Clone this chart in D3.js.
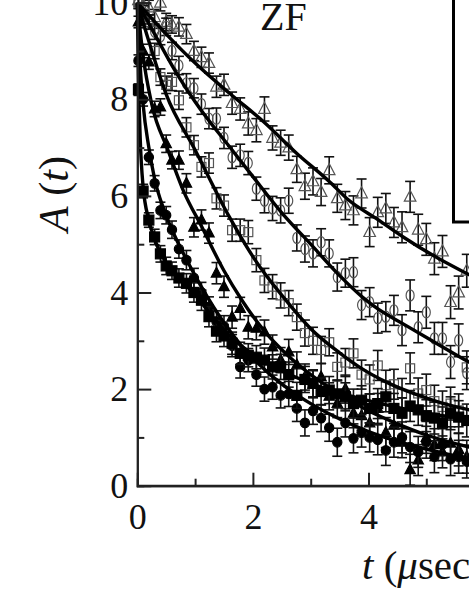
<!DOCTYPE html>
<html><head><meta charset="utf-8">
<script src="https://cdn.jsdelivr.net/npm/d3@7/dist/d3.min.js"></script>
<style>html,body{margin:0;padding:0;background:#fff;overflow:hidden}svg{display:block}</style>
</head><body>
<script>
// ---- data ----
const tBins = [0.02,0.1,0.2,0.3,0.4,0.5,0.6,0.72,0.85,0.98,1.11,1.24,1.37,1.5,1.64,1.78,1.92,2.06,2.2,2.34,2.48,2.62,2.76,2.9,3.04,3.18,3.32,3.46,3.6,3.74,3.88,4.02,4.16,4.3,4.44,4.58,4.72,4.86,5.0,5.14,5.28,5.42,5.56,5.7,5.84];
const errBins = [0.12,0.14,0.15,0.16,0.17,0.18,0.18,0.19,0.2,0.2,0.21,0.21,0.22,0.22,0.23,0.23,0.24,0.24,0.25,0.25,0.26,0.26,0.27,0.27,0.28,0.28,0.28,0.29,0.29,0.3,0.3,0.3,0.31,0.31,0.31,0.32,0.32,0.32,0.33,0.33,0.33,0.34,0.34,0.34,0.35];

const openTri  = [10.05,9.95,9.9,9.7,10.0,9.6,9.55,9.5,9.35,9.0,8.87,8.75,8.26,8.3,7.92,7.8,7.5,7.36,7.8,7.2,7.1,7.0,6.55,6.2,6.3,6.08,6.53,5.95,5.8,5.7,6.05,5.25,5.66,5.74,5.45,5.35,5.98,5.3,5.1,4.7,4.85,3.8,4.0,4.45,4.2];
const openCirc = [10.0,9.8,9.6,9.4,9.3,9.5,9.0,8.7,8.33,8.23,7.9,7.6,7.6,7.2,6.8,6.84,6.68,6.15,5.9,5.74,5.7,5.9,5.13,4.9,4.81,5.04,4.81,4.32,4.4,4.42,3.74,3.8,3.47,3.5,3.63,3.22,3.94,3.28,3.59,3.05,3.05,2.56,3.01,2.33,2.5];
const openSq   = [10.0,9.7,9.6,9.0,8.46,8.3,8.36,7.98,7.42,7.05,6.6,6.68,5.95,5.8,5.29,5.29,5.25,4.67,4.25,4.12,3.94,3.78,3.49,3.16,3.0,2.81,2.97,2.46,2.55,2.74,2.3,2.2,2.49,2.08,2.1,1.9,2.43,1.91,1.98,1.75,1.63,1.7,1.56,2.45,1.5];
const fillTri  = [9.6,9.0,8.77,7.8,7.84,7.08,6.74,6.74,6.26,5.35,5.5,5.23,4.4,4.12,3.49,3.67,3.28,3.26,3.18,2.87,2.6,2.77,2.5,2.25,2.1,2.25,1.85,1.7,2.0,1.5,1.45,1.3,1.6,1.1,1.25,0.9,0.33,0.53,1.0,0.85,0.7,0.88,0.75,0.6,0.8];
const fillCirc = [8.8,8.0,6.8,6.26,5.7,5.6,5.3,4.9,4.67,4.3,4.0,3.7,3.4,3.3,2.9,2.46,2.6,2.3,2.0,2.04,1.87,1.9,1.6,1.3,1.55,1.4,1.2,0.9,1.3,0.98,1.1,1.0,0.95,0.73,0.9,1.0,0.8,0.7,0.9,0.6,0.85,0.55,0.6,0.5,0.55];
const fillSq   = [8.2,6.1,5.5,5.15,4.8,4.55,4.45,4.3,4.19,4.0,3.84,3.5,3.2,3.1,2.95,2.74,2.7,2.66,2.6,2.46,2.46,2.3,1.87,2.2,2.12,1.95,1.98,1.9,1.84,1.7,1.77,1.6,1.7,1.84,1.6,1.5,1.65,1.57,1.45,1.4,1.3,1.5,1.42,1.35,1.4];

const fitT_openTri  = [0,0.5,1.0,1.6,2.18,2.76,3.33,3.65,4.15,4.6,5.1,5.64,6.2];
const fitA_openTri  = [10,9.35,8.75,8.12,7.54,6.88,6.29,5.92,5.52,5.15,4.78,4.43,4.1];
const fitT_openCirc = [0,0.3,0.65,1.0,1.64,2.0,2.5,3.0,3.5,3.9,4.15,4.6,5.1,5.74,6.2];
const fitA_openCirc = [10,9.35,8.6,7.95,6.95,6.4,5.65,5.0,4.35,3.9,3.67,3.35,3.0,2.56,2.3];
const fitT_openSq   = [0,0.2,0.5,1.0,1.6,2.04,2.53,3.0,3.5,3.85,4.3,4.8,5.3,5.74,6.2];
const fitA_openSq   = [10,9.2,8.1,6.95,5.55,4.67,3.9,3.25,2.75,2.45,2.15,1.9,1.7,1.57,1.45];
const fitT_fillTri  = [0,0.1,0.25,0.53,0.8,1.12,1.5,1.81,2.2,2.6,3.0,3.5,4.0,4.5,5.0,5.74,6.2];
const fitA_fillTri  = [10,8.9,7.9,6.95,6.1,5.35,4.45,3.84,3.2,2.7,2.3,1.9,1.55,1.28,1.05,0.8,0.7];
const fitT_fillCirc = [0,0.05,0.1,0.2,0.3,0.45,0.6,0.8,1.0,1.4,1.8,2.3,2.8,3.3,4.0,4.5,5.0,5.74,6.2];
const fitA_fillCirc = [10,8.7,7.9,7.0,6.35,5.75,5.3,4.8,4.35,3.55,2.9,2.3,1.85,1.5,1.12,0.92,0.76,0.56,0.48];
const fitT_fillSq   = [0,0.02,0.05,0.1,0.2,0.3,0.5,0.8,1.0,1.3,1.6,2.0,2.5,3.0,3.5,4.0,4.5,5.0,5.74,6.2];
const fitA_fillSq   = [10,8.5,7.2,6.2,5.5,5.1,4.62,4.2,3.95,3.5,3.1,2.72,2.38,2.12,1.92,1.76,1.62,1.5,1.38,1.32];

const xMajor = [0,2,4];
const xMinor = [1,3,5];
const yMajor = [0,2,4,6,8,10];
const yMinor = [1,3,5,7,9];

// ---- drawing ----
const W = 469, H = 607;
const svg = d3.select("body").append("svg").attr("width", W).attr("height", H);
const x = d3.scaleLinear().domain([0, 8]).range([137.3, 137.3 + 8 * 57.8]);
const y = d3.scaleLinear().domain([0, 10]).range([485.7, 2.7]);
const font = "'Liberation Serif','Times New Roman',serif";

const series = [
  {v: openTri,  fitT: fitT_openTri,  fitA: fitA_openTri,  shape: "tri",  fill: false},
  {v: openCirc, fitT: fitT_openCirc, fitA: fitA_openCirc, shape: "circ", fill: false},
  {v: openSq,   fitT: fitT_openSq,   fitA: fitA_openSq,   shape: "sq",   fill: false},
  {v: fillTri,  fitT: fitT_fillTri,  fitA: fitA_fillTri,  shape: "tri",  fill: true},
  {v: fillCirc, fitT: fitT_fillCirc, fitA: fitA_fillCirc, shape: "circ", fill: true},
  {v: fillSq,   fitT: fitT_fillSq,   fitA: fitA_fillSq,   shape: "sq",   fill: true}
];

const plot = svg.append("g");

// error bars + markers
series.forEach(s => {
  const g = plot.append("g");
  const pts = tBins.map((t, i) => ({t, a: s.v[i], e: errBins[i]}));
  const eb = g.selectAll("g.eb").data(pts).enter().append("g");
  eb.append("line").attr("x1", d => x(d.t)).attr("x2", d => x(d.t))
    .attr("y1", d => y(d.a - d.e)).attr("y2", d => y(d.a + d.e))
    .attr("stroke", "#111").attr("stroke-width", 1.6);
  [1, -1].forEach(sg => {
    eb.append("line").attr("x1", d => x(d.t) - 5).attr("x2", d => x(d.t) + 5)
      .attr("y1", d => y(d.a + sg * d.e)).attr("y2", d => y(d.a + sg * d.e))
      .attr("stroke", "#111").attr("stroke-width", 1.6);
  });
  const stroke = s.fill ? "#000" : "#555";
  const fill = s.fill ? "#000" : "none";
  if (s.shape === "circ") {
    g.selectAll("ellipse").data(pts).enter().append("ellipse")
      .attr("cx", d => x(d.t)).attr("cy", d => y(d.a))
      .attr("rx", s.fill ? 4.6 : 4).attr("ry", s.fill ? 4.8 : 5.6)
      .attr("fill", fill).attr("stroke", stroke).attr("stroke-width", 1.2);
  } else if (s.shape === "sq") {
    const h = s.fill ? 5 : 4.5;
    g.selectAll("rect").data(pts).enter().append("rect")
      .attr("x", d => x(d.t) - h).attr("y", d => y(d.a) - h)
      .attr("width", 2 * h).attr("height", 2 * h)
      .attr("fill", fill).attr("stroke", stroke).attr("stroke-width", 1.2);
  } else {
    const r = s.fill ? 5.2 : 5.8;
    g.selectAll("path").data(pts).enter().append("path")
      .attr("d", d => {
        const cx = x(d.t), cy = y(d.a);
        return `M${cx},${cy - r * 1.15}L${cx + r},${cy + r * 0.75}L${cx - r},${cy + r * 0.75}Z`;
      })
      .attr("fill", fill).attr("stroke", stroke).attr("stroke-width", 1.2);
  }
});

// fit lines
const line = d3.line().x(d => x(d[0])).y(d => y(d[1])).curve(d3.curveMonotoneX);
series.forEach(s => {
  plot.append("path").datum(s.fitT.map((t, i) => [t, s.fitA[i]]))
    .attr("d", line).attr("fill", "none").attr("stroke", "#000").attr("stroke-width", 3.4);
});

// axes
const axisColor = "#222";
const yAx = svg.append("g").attr("transform", `translate(${x(0)},0)`)
  .call(d3.axisLeft(y).tickValues(yMajor).tickSize(-14).tickPadding(9).tickFormat(d3.format("d")));
const yAxMin = svg.append("g").attr("transform", `translate(${x(0)},0)`)
  .call(d3.axisLeft(y).tickValues(yMinor).tickSize(-7).tickFormat(""));
const xAx = svg.append("g").attr("transform", `translate(0,${y(0)})`)
  .call(d3.axisBottom(x).tickValues(xMajor).tickSize(-13).tickPadding(18).tickFormat(d3.format("d")));
const xAxMin = svg.append("g").attr("transform", `translate(0,${y(0)})`)
  .call(d3.axisBottom(x).tickValues(xMinor).tickSize(-7).tickFormat(""));
[yAx, yAxMin, xAx, xAxMin].forEach(a => {
  a.select(".domain").attr("stroke", axisColor).attr("stroke-width", 2);
  a.selectAll(".tick line").attr("stroke", axisColor).attr("stroke-width", 2);
  a.selectAll("text").attr("font-family", font).attr("font-size", 36).attr("fill", "#111");
});
yAx.selectAll(".tick").filter(d => d === 0).select("line").remove();
xAx.selectAll(".tick").filter(d => d === 0).select("line").remove();
// x-axis line continues past the right edge of the picture
xAx.append("line").attr("x1", x(0)).attr("x2", x(8)).attr("stroke", axisColor).attr("stroke-width", 2);

// legend box (partially visible)
svg.append("rect").attr("x", 453.5).attr("y", -20).attr("width", 200).attr("height", 242)
  .attr("fill", "#fff").attr("stroke", "#000").attr("stroke-width", 3);

// ZF label
svg.append("text").attr("x", 260).attr("y", 30).attr("font-family", font)
  .attr("font-size", 40).attr("fill", "#111").text("ZF");

// y label
const yl = svg.append("text").attr("transform", "translate(68,194) rotate(-90)")
  .attr("text-anchor", "middle").attr("font-family", font).attr("font-size", 42).attr("fill", "#111");
yl.append("tspan").attr("font-style", "italic").text("A");
yl.append("tspan").text(" (");
yl.append("tspan").attr("font-style", "italic").text("t");
yl.append("tspan").text(")");

// x label
const xl = svg.append("text").attr("x", 362).attr("y", 579).attr("font-family", font)
  .attr("font-size", 41).attr("fill", "#111");
xl.append("tspan").attr("font-style", "italic").text("t");
xl.append("tspan").text(" (");
xl.append("tspan").attr("font-style", "italic").text("μ");
xl.append("tspan").text("sec)");
</script>
</body></html>
